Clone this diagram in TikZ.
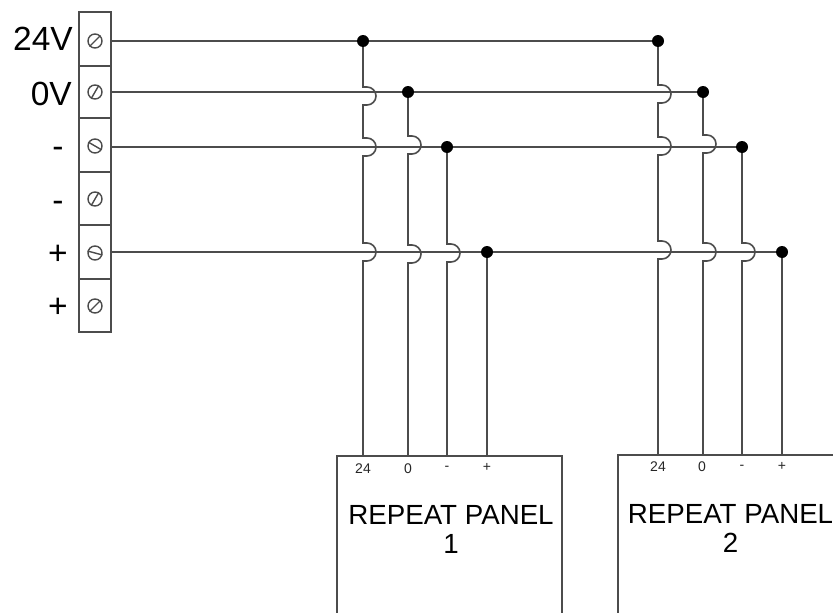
\documentclass[tikz,border=0pt]{standalone}
\usepackage{fontspec}
\setmainfont{Liberation Sans}
\tikzset{
  wire/.style={line width=1.6pt,color=black!70},
  cell/.style={draw=black!70,line width=1.6pt,minimum width=32pt,inner sep=0pt},
  screw/.style={circle,draw=black!70,line width=1.4pt,minimum size=14pt,inner sep=0pt},
  junction/.style={circle,fill=black,minimum size=12pt,inner sep=0pt},
  termlabel/.style={font=\fontsize{33.5}{33.5}\selectfont,inner sep=0pt},
  pinlabel/.style={font=\fontsize{14}{14}\selectfont,inner sep=0pt,color=black!85},
  paneltext/.style={font=\fontsize{27.7}{29}\selectfont,align=center,inner sep=0pt}
}
% wire jumps to the right over a bus line
\newcommand{\hopat}[2]{-- (#1 |- 0,#2) -- ++(4,0) arc[start angle=-90,end angle=90,radius=9] -- (#1 |- 0,#2+18)}
\begin{document}
\begin{tikzpicture}[x=1pt,y=-1pt]
    \useasboundingbox (0,0) rectangle (833,613);

    % terminal block
    \node[cell,minimum height=54pt] (cellA) at (95,39) {};
    \node[cell,minimum height=52pt] (cellB) at (95,92) {};
    \node[cell,minimum height=54pt] (cellC) at (95,145) {};
    \node[cell,minimum height=53pt] (cellD) at (95,198.5) {};
    \node[cell,minimum height=54pt] (cellE) at (95,252) {};
    \node[cell,minimum height=53pt] (cellF) at (95,305.5) {};

    \node[screw] (screwA) at (95,41) {};
    \node[screw] (screwB) at (95,92) {};
    \node[screw] (screwC) at (95,146) {};
    \node[screw] (screwD) at (95,199) {};
    \node[screw] (screwE) at (95,253) {};
    \node[screw] (screwF) at (95,306) {};
    \draw[wire,line width=1.4pt] (screwA.south west)--(screwA.north east);
    \draw[wire,line width=1.4pt] (screwB.240)--(screwB.60);
    \draw[wire,line width=1.4pt] (screwC.150)--(screwC.330);
    \draw[wire,line width=1.4pt] (screwD.240)--(screwD.60);
    \draw[wire,line width=1.4pt] (screwE.165)--(screwE.345);
    \draw[wire,line width=1.4pt] (screwF.south west)--(screwF.north east);

    \node[termlabel,anchor=base east] (lblA) at (73,50) {24V};
    \node[termlabel,anchor=base east] (lblB) at (72,105) {0V};
    \node[termlabel] (lblC) at (58,152) {-};
    \node[termlabel] (lblD) at (58,206) {-};
    \node[termlabel] (lblE) at (58,255) {+};
    \node[termlabel] (lblF) at (58,308) {+};

    % junctions
    \node[junction] (oneP) at (363,41) {};
    \node[junction] (oneZ) at (408,92) {};
    \node[junction] (oneN) at (447,147) {};
    \node[junction] (oneV) at (487,252) {};
    \node[junction] (twoP) at (658,41) {};
    \node[junction] (twoZ) at (703,92) {};
    \node[junction] (twoN) at (742,147) {};
    \node[junction] (twoV) at (782,252) {};

    % panels, cut off by the page edge
    \coordinate (panelOne) at (337,456);
    \coordinate (panelTwo) at (618,455);
    \draw[wire] (panelOne |- 0,613) |- (562,456) -- (562,613);
    \draw[wire] (panelTwo |- 0,613) |- (833,455);

    \coordinate (pinOneP) at (oneP |- panelOne);
    \coordinate (pinOneZ) at (oneZ |- panelOne);
    \coordinate (pinOneN) at (oneN |- panelOne);
    \coordinate (pinOneV) at (oneV |- panelOne);
    \coordinate (pinTwoP) at (twoP |- panelTwo);
    \coordinate (pinTwoZ) at (twoZ |- panelTwo);
    \coordinate (pinTwoN) at (twoN |- panelTwo);
    \coordinate (pinTwoV) at (twoV |- panelTwo);

    % bus lines
    \draw[wire] (cellA.east |- oneP)--(oneP)--(twoP);
    \draw[wire] (cellB.east |- oneZ)--(oneZ)--(twoZ);
    \draw[wire] (cellC.east |- oneN)--(oneN)--(twoN);
    \draw[wire] (cellE.east |- oneV)--(oneV)--(twoV);

    % drops to panel 1
    \draw[wire] (oneP) \hopat{oneP}{87} \hopat{oneP}{138} \hopat{oneP}{243} -- (pinOneP);
    \draw[wire] (oneZ) \hopat{oneZ}{136} \hopat{oneZ}{245} -- (pinOneZ);
    \draw[wire] (oneN) \hopat{oneN}{244} -- (pinOneN);
    \draw[wire] (oneV)--(pinOneV);

    % drops to panel 2
    \draw[wire] (twoP) \hopat{twoP}{85} \hopat{twoP}{137} \hopat{twoP}{241} -- (pinTwoP);
    \draw[wire] (twoZ) \hopat{twoZ}{135} \hopat{twoZ}{243} -- (pinTwoZ);
    \draw[wire] (twoN) \hopat{twoN}{243} -- (pinTwoN);
    \draw[wire] (twoV)--(pinTwoV);

    \node[pinlabel] (txtOneP) at (363,469) {24};
    \node[pinlabel] (txtOneZ) at (408,469) {0};
    \node[pinlabel] (txtOneN) at (447,468) {-};
    \node[pinlabel] (txtOneV) at (487,467) {+};
    \node[pinlabel] (txtTwoP) at (658,467) {24};
    \node[pinlabel] (txtTwoZ) at (702,467) {0};
    \node[pinlabel] (txtTwoN) at (742,467) {-};
    \node[pinlabel] (txtTwoV) at (782,466) {+};

    \node[paneltext] (nameOne) at (451,529) {REPEAT PANEL\\1};
    \node[paneltext] (nameTwo) at (730.5,528) {REPEAT PANEL\\2};
  \end{tikzpicture}
\end{document}
